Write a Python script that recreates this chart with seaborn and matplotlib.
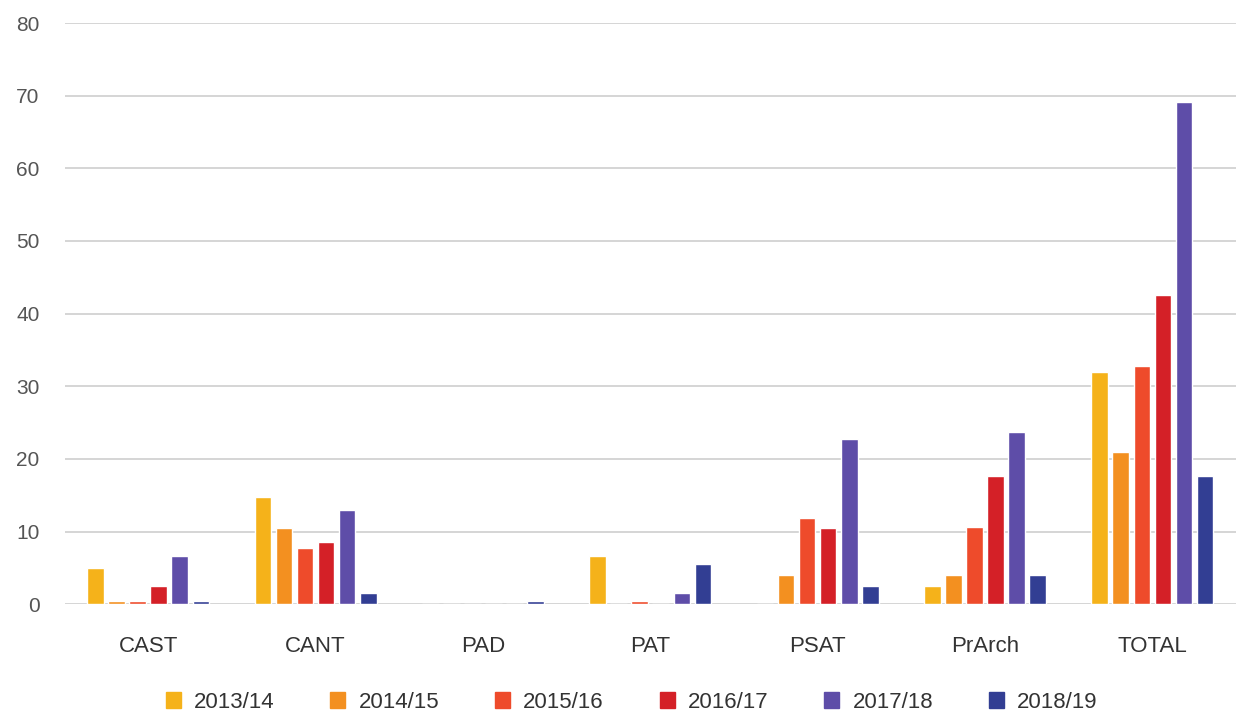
import matplotlib
matplotlib.use("Agg")
import matplotlib.pyplot as plt
import seaborn as sns
import pandas as pd

categories = ["CAST", "CANT", "PAD", "PAT", "PSAT", "PrArch", "TOTAL"]
years = ["2013/14", "2014/15", "2015/16", "2016/17", "2017/18", "2018/19"]

v_2013_14 = [5.0, 14.8, 0.0, 6.7, 0.0, 2.5, 32.0]
v_2014_15 = [0.5, 10.5, 0.0, 0.0, 4.0, 4.0, 20.9]
v_2015_16 = [0.5, 7.8, 0.0, 0.5, 11.8, 10.6, 32.8]
v_2016_17 = [2.5, 8.5, 0.0, 0.0, 10.5, 17.6, 42.6]
v_2017_18 = [6.7, 12.9, 0.0, 1.6, 22.8, 23.7, 69.2]
v_2018_19 = [0.5, 1.6, 0.5, 5.6, 2.5, 4.0, 17.6]

colors = ["#F5B21A", "#F39020", "#EE4B2B", "#D42027", "#5E4DA8", "#323E93"]

series = [v_2013_14, v_2014_15, v_2015_16, v_2016_17, v_2017_18, v_2018_19]
rows = []
for year, vals in zip(years, series):
    for cat, v in zip(categories, vals):
        rows.append({"category": cat, "year": year, "value": v})
df = pd.DataFrame(rows)

sns.set_theme(style="white")
plt.rcParams["font.family"] = ["Liberation Sans", "DejaVu Sans"]

fig = plt.figure(figsize=(12.41, 7.21), dpi=100)
ax = fig.add_axes([0.052, 0.162, 0.944, 0.806])

sns.barplot(data=df, x="category", y="value", hue="year", order=categories,
            hue_order=years, palette=colors, width=0.755, gap=0.21,
            saturation=1, ax=ax)

ax.set_ylim(0, 80)
ax.set_xlim(-0.5, 6.5)
ax.set_yticks(range(0, 81, 10))
ax.yaxis.grid(True, color="#d2d2d2", linewidth=1.3)
ax.set_axisbelow(True)
for s in ax.spines.values():
    s.set_visible(False)
ax.set_xlabel("")
ax.set_ylabel("")
ax.tick_params(axis="y", labelsize=15, labelcolor="#555555", pad=18, length=0)
ax.tick_params(axis="x", labelsize=16, labelcolor="#333333", pad=23, length=0)

ax.legend_.remove()
handles = [plt.Rectangle((0, 0), 1, 1, color=c) for c in colors]
fig.legend(handles, years, loc="center", bbox_to_anchor=(0.509, 0.026),
           ncol=6, frameon=False, fontsize=16, handlelength=0.68,
           handleheight=0.68, handletextpad=0.6, columnspacing=2.5,
           labelcolor="#333333")

fig.savefig("out.png", dpi=100, facecolor="white")
